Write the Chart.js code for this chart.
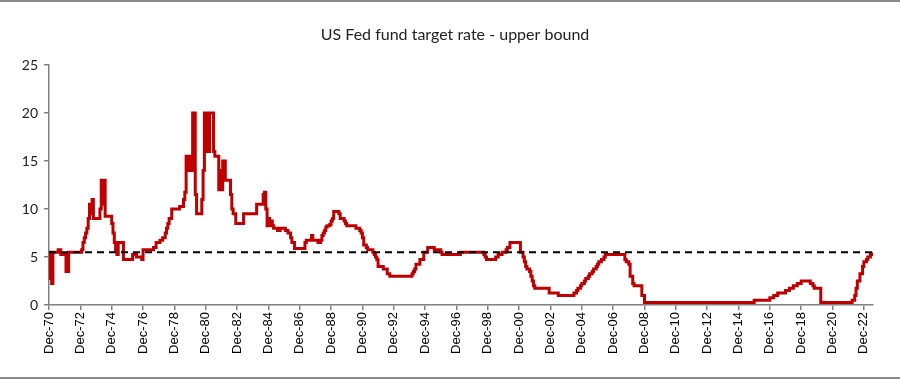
<!DOCTYPE html>
<html><head><meta charset="utf-8">
<script src="https://cdn.jsdelivr.net/npm/chart.js@4/dist/chart.umd.min.js"></script>
<style>html,body{margin:0;padding:0;background:#fff}#wrap{width:900px;height:379px;position:relative}</style>
</head><body><div id="wrap"><canvas id="c" width="900" height="379"></canvas></div>
<script>
const chartTitle = 'US Fed fund target rate - upper bound';
// dates at which the rate changed (month-end), and the new rate (%)
const changeDates = [
 '1970-12','1971-01','1971-02','1971-03','1971-07','1971-09','1972-01','1972-03',
 '1973-01','1973-02','1973-03','1973-04','1973-05','1973-06','1973-07','1973-08','1973-09','1973-10',
 '1974-03','1974-04','1974-05','1974-06','1974-07','1974-12',
 '1975-01','1975-02','1975-03','1975-04','1975-05','1975-09',
 '1976-04','1976-07','1976-11','1976-12',
 '1977-08','1977-10',
 '1978-01','1978-03','1978-05','1978-06','1978-07','1978-08','1978-10',
 '1979-04','1979-07','1979-08','1979-09','1979-10','1979-11','1979-12',
 '1980-02','1980-04','1980-05','1980-09','1980-10','1980-11',
 '1981-01','1981-03','1981-06','1981-07','1981-10','1981-11','1981-12',
 '1982-01','1982-03','1982-07','1982-08','1982-09','1982-11',
 '1983-05','1984-03','1984-08','1984-09','1984-10','1984-11','1984-12',
 '1985-01','1985-02','1985-03','1985-04','1985-07','1985-09',
 '1986-01','1986-03','1986-05','1986-06','1986-08',
 '1987-04','1987-05','1987-09','1987-10',
 '1988-02','1988-04','1988-05','1988-06','1988-07','1988-08','1988-09','1988-11','1988-12',
 '1989-01','1989-02','1989-06','1989-07','1989-10','1989-11','1989-12',
 '1990-07','1990-10','1990-11','1990-12',
 '1991-01','1991-03','1991-04','1991-08','1991-09','1991-10','1991-11','1991-12',
 '1992-04','1992-07','1992-09',
 '1994-02','1994-03','1994-04','1994-05','1994-08','1994-11',
 '1995-02','1995-07','1995-12','1996-01','1997-03',
 '1998-09','1998-10','1998-11','1999-06','1999-08','1999-11',
 '2000-02','2000-03','2000-05',
 '2001-01','2001-03','2001-04','2001-05','2001-06','2001-08','2001-09','2001-10','2001-11','2001-12',
 '2002-11','2003-06',
 '2004-06','2004-08','2004-09','2004-11','2004-12',
 '2005-02','2005-03','2005-05','2005-06','2005-08','2005-09','2005-11','2005-12',
 '2006-01','2006-03','2006-05','2006-06',
 '2007-09','2007-10','2007-12',
 '2008-01','2008-03','2008-04','2008-10','2008-12',
 '2015-12','2016-12','2017-03','2017-06','2017-12',
 '2018-03','2018-06','2018-09','2018-12',
 '2019-07','2019-09','2019-10','2020-03',
 '2022-03','2022-05','2022-06','2022-07','2022-09','2022-11','2022-12',
 '2023-02','2023-03','2023-05','2023-07'
];
const upperBound = [
 5.5,2.75,2.25,5.5,5.75,5.25,3.5,5.5,
 5.75,6.5,7.0,7.5,8.0,9.0,10.5,9.5,11.0,9.0,
 10.0,13.0,10.5,13.0,9.25,8.5,
 7.5,6.5,5.75,5.25,6.5,4.75,
 5.25,5.0,4.75,5.75,
 6.0,6.5,
 6.75,7.0,7.5,8.0,8.5,9.0,10.0,
 10.25,11.0,11.75,15.5,14.0,15.5,14.0,
 20.0,11.5,9.5,11.0,14.0,20.0,
 16.0,20.0,16.0,15.5,12.0,14.0,12.0,
 15.0,13.0,11.5,10.0,9.5,8.5,
 9.5,10.5,11.5,11.75,10.0,8.25,9.0,
 8.25,8.75,8.25,8.0,7.75,8.0,
 7.75,7.5,7.0,6.5,5.875,
 6.5,6.75,7.25,6.75,
 6.5,6.75,7.25,7.5,7.75,8.125,8.25,8.375,8.75,
 9.0,9.75,9.5,9.0,8.75,8.5,8.25,
 8.0,7.75,7.5,7.0,
 6.25,6.0,5.75,5.5,5.25,5.0,4.75,4.0,
 3.75,3.25,3.0,
 3.25,3.5,3.75,4.25,4.75,5.5,
 6.0,5.75,5.5,5.25,5.5,
 5.25,5.0,4.75,5.0,5.25,5.5,
 5.75,6.0,6.5,
 5.5,5.0,4.5,4.0,3.75,3.5,3.0,2.5,2.0,1.75,
 1.25,1.0,
 1.25,1.5,1.75,2.0,2.25,
 2.5,2.75,3.0,3.25,3.5,3.75,4.0,4.25,
 4.5,4.75,5.0,5.25,
 4.75,4.5,4.25,
 3.0,2.25,2.0,1.0,0.25,
 0.5,0.75,1.0,1.25,1.5,
 1.75,2.0,2.25,2.5,
 2.25,2.0,1.75,0.25,
 0.5,1.0,1.75,2.5,3.25,4.0,4.5,
 4.75,5.0,5.25,5.5
];
const referenceLevel = 5.5;
const xTickLabels = ['Dec-70','Dec-72','Dec-74','Dec-76','Dec-78','Dec-80','Dec-82','Dec-84','Dec-86','Dec-88',
 'Dec-90','Dec-92','Dec-94','Dec-96','Dec-98','Dec-00','Dec-02','Dec-04','Dec-06','Dec-08','Dec-10','Dec-12',
 'Dec-14','Dec-16','Dec-18','Dec-20','Dec-22'];
const yTickValues = [0,5,10,15,20,25];

// month index relative to Dec-1970
function monthIndex(y, m){ return (y-1970)*12 + (m-12); }
function dateIndex(s){ const [y,m]=s.split('-').map(Number); return monthIndex(y,m); }
function labelIndex(l){ const yy=Number(l.split('-')[1]); const y = yy>=50?1900+yy:2000+yy; return monthIndex(y,12); }

const pts = changeDates.map((d,i)=>({x:dateIndex(d), y:upperBound[i]}));
const minX = pts[0].x, maxX = pts[pts.length-1].x;

const frame = {
  id:'frame',
  beforeDraw(chart){
    const c = chart.ctx;
    c.save();
    c.fillStyle='#fff'; c.fillRect(0,0,chart.width,chart.height);
    c.strokeStyle='#8a8a8a'; c.lineWidth=2;
    c.beginPath(); c.moveTo(0,1); c.lineTo(chart.width,1); c.moveTo(0,378); c.lineTo(chart.width,378); c.stroke();
    c.fillStyle='#222'; c.font='normal 16px Lato'; c.textAlign='center'; c.textBaseline='middle';
    c.fillText(chartTitle, 455, 35);
    c.restore();
  }
};

new Chart(document.getElementById('c'), {
  type:'line',
  data:{datasets:[
    {data:[{x:minX,y:referenceLevel},{x:maxX,y:referenceLevel}], borderColor:'#000', borderWidth:2, borderDash:[7,5], pointRadius:0, fill:false, order:1},
    {data:pts, borderColor:'#C00000', borderWidth:3, pointRadius:0, stepped:true, fill:false, order:2}
  ]},
  options:{
    responsive:false, animation:false, devicePixelRatio:1,
    layout:{padding:{left:0,right:27,top:65,bottom:0}},
    plugins:{
      legend:{display:false}, tooltip:{enabled:false}, title:{display:false}
    },
    scales:{
      x:{type:'linear', min:minX, max:maxX,
        afterBuildTicks:s=>{ s.ticks = xTickLabels.map(l=>({value:labelIndex(l)})); },
        ticks:{autoSkip:false, maxRotation:90, minRotation:90, padding:2, color:'#000',
          font:{family:'Liberation Sans', size:13}, callback:(v,i)=>xTickLabels[i]},
        grid:{display:true, drawOnChartArea:false, tickLength:5, color:'#808080', lineWidth:1.5},
        border:{display:true, color:'#808080', width:1.5},
        afterFit:s=>{ s.height = 74; }
      },
      y:{min:0, max:25,
        afterBuildTicks:s=>{ s.ticks = yTickValues.map(v=>({value:v})); },
        ticks:{padding:6, color:'#222', font:{family:'Lato', size:14}},
        grid:{display:true, drawOnChartArea:false, tickLength:5, color:'#808080', lineWidth:1.5},
        border:{display:true, color:'#808080', width:1.5},
        afterFit:s=>{ s.width = 49; }
      }
    }
  },
  plugins:[frame]
});
</script>
</body></html>
